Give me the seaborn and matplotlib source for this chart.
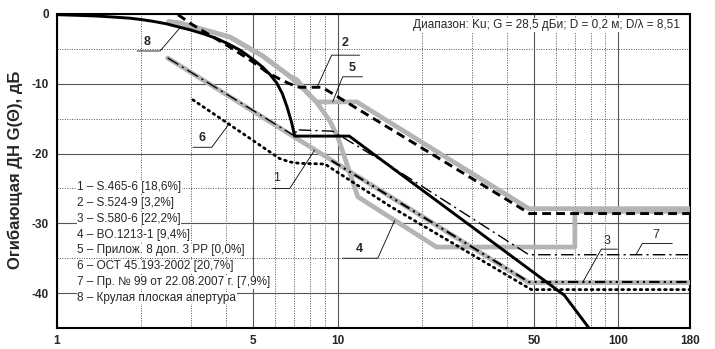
"""Envelope of antenna radiation patterns (Ku band, D/lambda = 8.51)."""

import matplotlib
matplotlib.use('Agg')
import matplotlib.pyplot as plt
import seaborn as sns
import pandas as pd
from matplotlib.ticker import FixedLocator, NullFormatter

# ── DATA ─────────────────────────────────────────────────────────────────────

# 1 – S.465-6
x1 = [2.48, 10.0, 48.0, 180.0]
y1 = [-6.3, -21.5, -38.5, -38.5]

# 2 – S.524-9
x2 = [2.7, 3.0, 3.6, 4.23, 5.0, 5.58, 6.2, 6.74, 7.3, 8.8, 48.3, 180.0]
y2 = [-0.1, -1.4, -3.3, -5.0, -6.9, -8.3, -9.3, -10.0, -10.5, -10.5, -28.6, -28.6]

# 3 – S.580-6
x3 = [9.5, 48.0, 180.0]
y3 = [-21.0, -38.4, -38.4]

# 4 – BO.1213-1
x4 = [2.5, 2.74, 4.13, 5.4, 6.74, 7.15, 7.76, 8.4, 9.37, 10.0, 10.6, 11.2,
      11.8, 22.5, 70.0, 70.0, 180.0]
y4 = [-1.1, -1.3, -3.3, -6.0, -8.9, -9.4, -11.2, -12.6, -15.3, -17.6, -20.6,
      -23.5, -26.2, -33.4, -33.4, -28.3, -28.3]

# 5 – Appendix 8 RR
x5 = [2.5, 2.74, 4.13, 5.4, 6.74, 7.76, 8.4, 11.7, 48.0, 180.0]
y5 = [-1.1, -1.3, -3.3, -6.0, -8.9, -11.2, -12.6, -12.6, -27.9, -27.9]

# 6 – OST 45.193-2002
x6 = [3.05, 4.86, 6.2, 6.75, 7.3, 9.0, 10.0, 15.3, 49.0, 180.0]
y6 = [-12.3, -17.8, -20.7, -21.2, -21.4, -21.5, -22.7, -27.5, -39.5, -39.5]

# 7 – Order No 99
x7 = [2.48, 7.1, 7.1, 9.6, 15.3, 48.0, 180.0]
y7 = [-6.3, -17.6, -16.6, -16.8, -21.7, -34.5, -34.5]

# 8 – circular flat aperture
x8 = [1.0, 1.2, 1.4, 1.6, 1.82, 2.0, 2.2, 2.45, 2.74, 3.0, 3.3, 3.7, 4.13,
      4.5, 4.8, 5.1, 5.4, 5.75, 6.07, 6.35, 6.6, 6.85, 7.03, 11.0, 64.2, 82.0]
y8 = [-0.1, -0.2, -0.3, -0.45, -0.6, -0.8, -1.05, -1.4, -1.9, -2.3, -2.8,
      -3.5, -4.4, -5.2, -6.0, -6.8, -7.6, -8.7, -9.9, -11.4, -13.3, -15.5,
      -17.5, -17.5, -40.3, -46.0]

LEGEND_LINES = [
    '1 – S.465-6 [18,6%]',
    '2 – S.524-9 [3,2%]',
    '3 – S.580-6 [22,2%]',
    '4 – BO.1213-1 [9,4%]',
    '5 – Прилож. 8 доп. 3 РР [0,0%]',
    '6 – ОСТ 45.193-2002 [20,7%]',
    '7 – Пр. № 99 от 22.08.2007 г. [7,9%]',
    '8 – Крулая плоская апертура',
]

X_TICKS = [1, 5, 10, 50, 100, 180]
Y_TICKS = [0, -10, -20, -30, -40]

GRAY = '#b4b4b4'


# ── HELPERS ───────────────────────────────────────────────────────────────────

def draw(ax, xs, ys, **kws):
    """One pattern curve through seaborn, keeping point order."""
    df = pd.DataFrame({'phi': xs, 'g': ys})
    sns.lineplot(data=df, x='phi', y='g', ax=ax, sort=False, estimator=None,
                 legend=False, **kws)


def tag(ax, text, txy, pts, bold=True):
    """Curve number with its leader line."""
    ax.plot([p[0] for p in pts], [p[1] for p in pts], color='black', lw=0.6,
            zorder=6)
    ax.text(*txy, text, ha='center', va='center', fontsize=9,
            fontweight='bold' if bold else 'normal', zorder=7)


# ── FIGURE ────────────────────────────────────────────────────────────────────

sns.set_style('white')
plt.rcParams['font.family'] = ['Liberation Sans', 'DejaVu Sans']

fig = plt.figure(figsize=(7.15, 3.49), dpi=100)
ax = fig.add_axes([0.0797, 0.0602, 0.8853, 0.8997])
ax.set_xscale('log')

# grey thick envelopes underneath
draw(ax, x1, y1, color=GRAY, linewidth=3.4, zorder=3)
draw(ax, x4, y4, color=GRAY, linewidth=3.4, zorder=3)
draw(ax, x5, y5, color=GRAY, linewidth=3.4, zorder=3)

# black envelopes on top
draw(ax, x6, y6, color='black', linewidth=2.0, linestyle=(0, (0.6, 1.6)),
     dash_capstyle='round', zorder=4)
draw(ax, x3, y3, color='black', linewidth=1.5,
     linestyle=(0, (5, 2, 1, 2, 1, 2)), zorder=4)
draw(ax, x7, y7, color='black', linewidth=1.0,
     linestyle=(0, (9, 3, 1.5, 3)), zorder=4)
draw(ax, x2, y2, color='black', linewidth=2.1, linestyle=(0, (3, 1.8)),
     zorder=4)
draw(ax, x8, y8, color='black', linewidth=2.1, zorder=5)

ax.set_xlim(1, 180)
ax.set_ylim(-45, 0)

ax.xaxis.set_major_locator(FixedLocator(X_TICKS))
ax.xaxis.set_minor_locator(FixedLocator([2, 3, 4, 6, 7, 8, 9, 20, 30, 40,
                                         60, 70, 80, 90]))
ax.set_xticklabels([str(t) for t in X_TICKS])
ax.xaxis.set_minor_formatter(NullFormatter())
ax.yaxis.set_major_locator(FixedLocator(Y_TICKS))
ax.yaxis.set_minor_locator(FixedLocator([-5, -15, -25, -35]))
ax.set_yticklabels([str(t) for t in Y_TICKS])

ax.tick_params(which='both', length=0)
ax.tick_params(axis='x', pad=5, labelsize=8.5)
ax.tick_params(axis='y', pad=6, labelsize=8.5)
for lab in ax.get_xticklabels() + ax.get_yticklabels():
    lab.set_fontweight('bold')

ax.grid(which='major', color='#555555', linewidth=0.8, linestyle='-')
ax.grid(which='minor', color='#555555', linewidth=0.7, linestyle=(0, (1, 1.5)))
ax.set_axisbelow(True)
for sp in ax.spines.values():
    sp.set_color('black')
    sp.set_linewidth(1.5)

ax.set_xlabel('')
ax.set_ylabel('')
fig.text(0.021, 0.513, 'Огибающая ДН G(Θ), дБ', rotation=90, ha='center',
         va='center', fontsize=12, fontweight='bold')

ax.text(0.984, 0.965, 'Диапазон: Ku; G = 28,5 дБи; D = 0,2 м; D/λ = 8,51',
        transform=ax.transAxes, ha='right', va='center', fontsize=8.5,
        bbox=dict(facecolor='white', edgecolor='none', pad=0.5), zorder=8)

for i, line in enumerate(LEGEND_LINES):
    ax.text(0.032, 0.449 - i * 0.0505, line, transform=ax.transAxes,
            ha='left', va='center', fontsize=8.5,
            bbox=dict(facecolor='white', edgecolor='none', pad=0.3), zorder=8)

# curve numbers with leaders
tag(ax, '8', (2.09, -4.0), [(1.93, -5.3), (2.33, -5.3), (2.74, -2.0)])
tag(ax, '2', (10.6, -4.2), [(11.98, -5.9), (9.52, -5.9), (8.42, -10.6)])
tag(ax, '5', (11.3, -7.7), [(12.27, -9.0), (10.42, -9.0), (9.6, -12.6)])
tag(ax, '6', (3.28, -17.8), [(3.05, -19.1), (3.56, -19.1), (4.13, -15.6)])
tag(ax, '1', (6.07, -23.5), [(5.87, -25.0), (6.75, -25.0), (8.28, -19.5)],
    bold=False)
tag(ax, '4', (11.97, -33.7), [(10.42, -35.0), (13.9, -35.0), (15.96, -29.6)])
tag(ax, '3', (91.4, -32.6), [(99.2, -33.7), (87.0, -33.7), (74.5, -38.5)],
    bold=False)
tag(ax, '7', (136.5, -31.7), [(155.7, -32.9), (121.7, -32.9), (115.9, -34.4)],
    bold=False)

fig.savefig('out.png', dpi=100)
